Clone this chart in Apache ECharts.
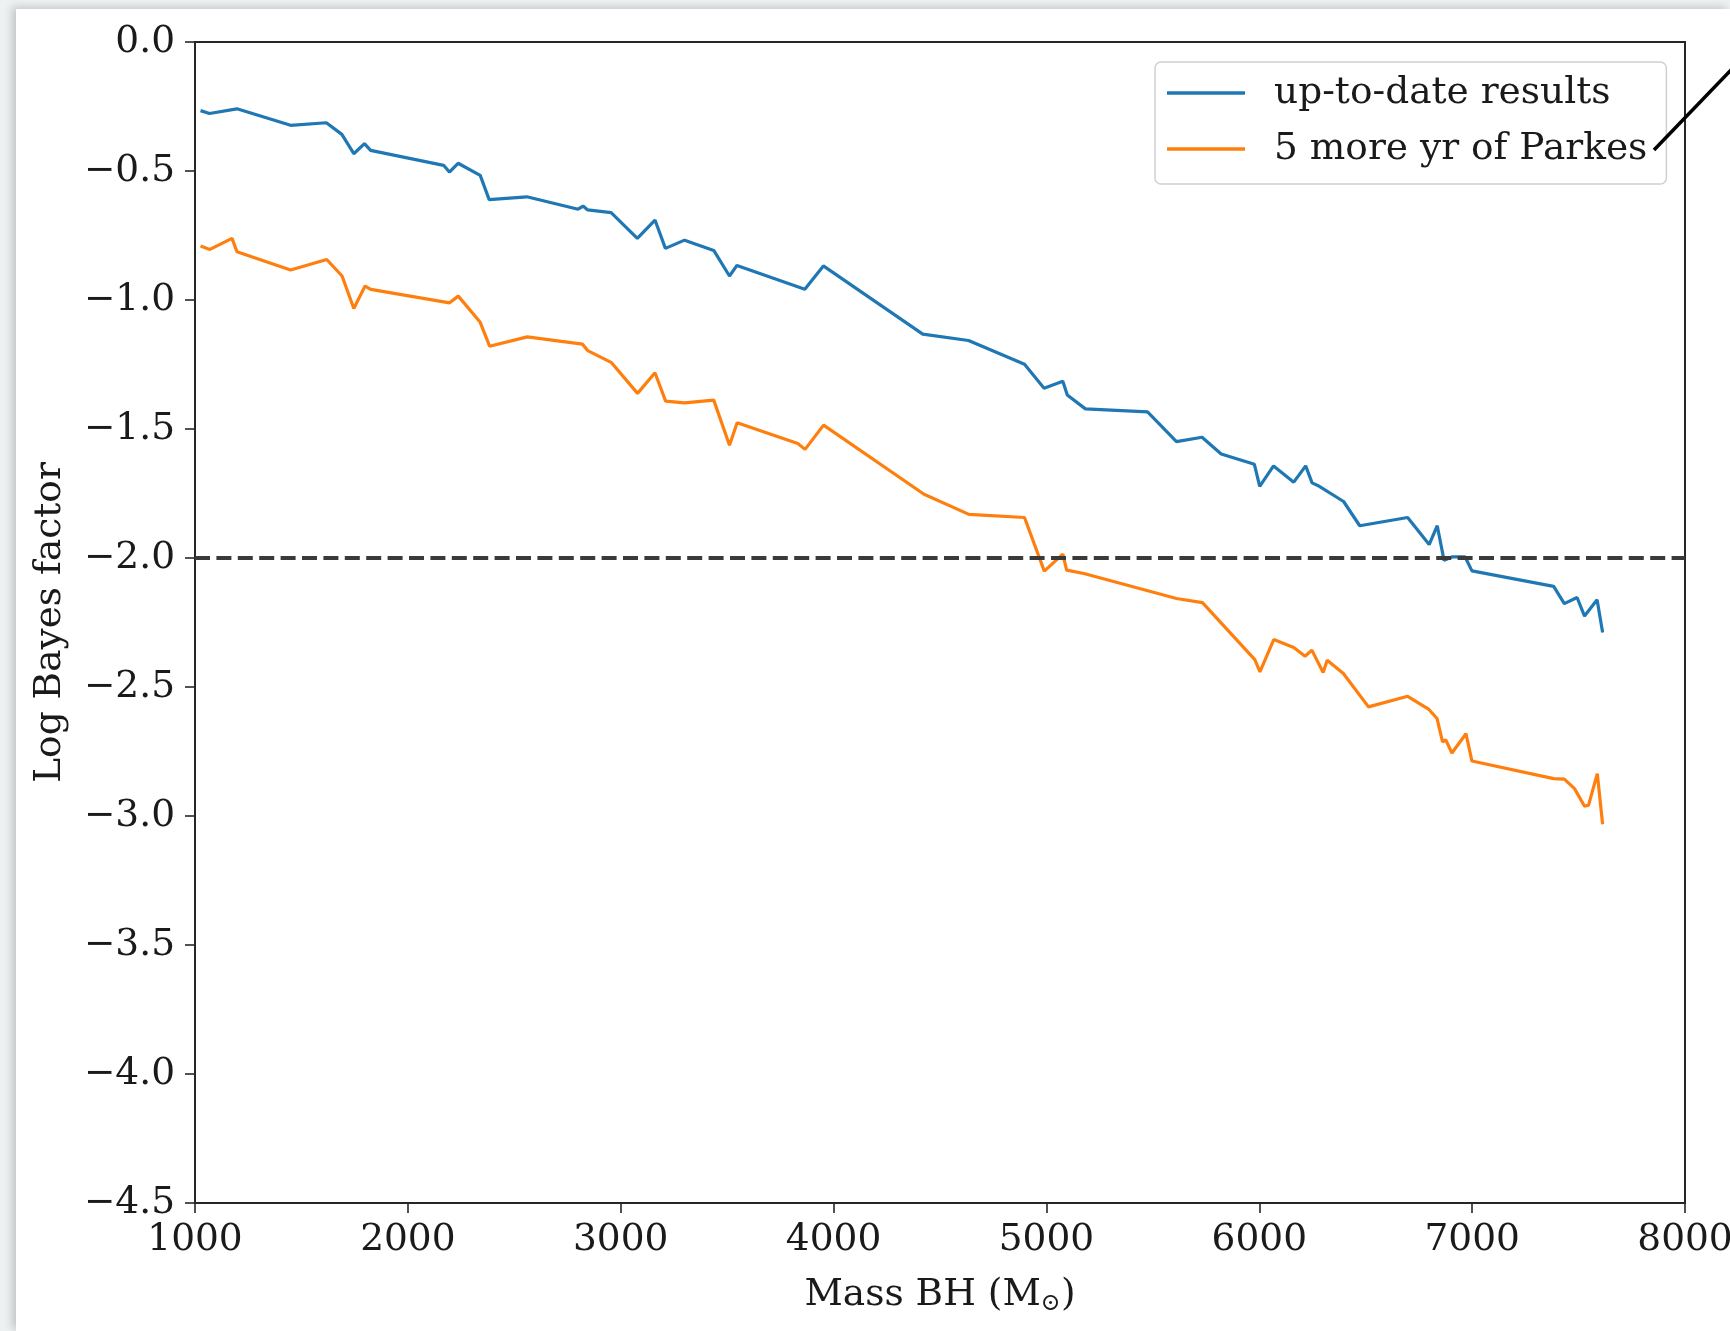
<!DOCTYPE html>
<html>
<head>
<meta charset="utf-8">
<script src="https://cdn.jsdelivr.net/npm/echarts@6/dist/echarts.min.js"></script>
<style>
  html, body { margin: 0; padding: 0; width: 1730px; height: 1331px; background: #edf1f1; overflow: hidden; }
  #card { position: absolute; left: 16px; top: 9px; width: 1714px; height: 1322px; background: #ffffff;
          box-shadow: -4px -2px 8px rgba(0,0,0,0.18); }
  #chart { position: absolute; left: 0; top: 0; width: 1730px; height: 1331px; }
</style>
</head>
<body>
<div id="card"></div>
<div id="chart"></div>
<script>
// ---- data ----
const massUpToDate = [1026, 1068, 1197, 1449, 1617, 1690, 1746, 1796, 1825, 2168, 2195, 2236, 2340, 2382, 2559,
  2800, 2823, 2845, 2955, 3078, 3161, 3210, 3300, 3437, 3511, 3546, 3865, 3952, 4419, 4634, 4897, 4989, 5077,
  5098, 5183, 5475, 5611, 5731, 5821, 5977, 6002, 6067, 6162, 6218, 6248, 6282, 6396, 6472, 6697, 6798, 6836,
  6868, 6905, 6967, 6999, 7383, 7433, 7493, 7528, 7587, 7613];
const bayesUpToDate = [-0.266, -0.277, -0.259, -0.323, -0.313, -0.358, -0.433, -0.394, -0.420, -0.478, -0.504,
  -0.470, -0.517, -0.611, -0.600, -0.648, -0.636, -0.651, -0.661, -0.761, -0.690, -0.800, -0.768, -0.808, -0.907,
  -0.866, -0.958, -0.868, -1.132, -1.157, -1.249, -1.342, -1.315, -1.368, -1.422, -1.434, -1.549, -1.532, -1.597,
  -1.637, -1.722, -1.643, -1.706, -1.643, -1.709, -1.722, -1.781, -1.875, -1.843, -1.948, -1.875, -2.009, -1.996,
  -1.996, -2.050, -2.110, -2.177, -2.153, -2.225, -2.162, -2.289];

const massParkes = [1026, 1070, 1174, 1197, 1449, 1619, 1691, 1746, 1799, 1826, 2196, 2237, 2339, 2384, 2561,
  2820, 2845, 2957, 3079, 3161, 3211, 3300, 3437, 3511, 3547, 3832, 3866, 3953, 4425, 4636, 4897, 4990, 5077,
  5095, 5176, 5611, 5733, 5979, 6003, 6068, 6162, 6215, 6247, 6300, 6319, 6395, 6513, 6697, 6797, 6835, 6861,
  6876, 6905, 6971, 6999, 7383, 7433, 7481, 7528, 7547, 7588, 7613];
const bayesParkes = [-0.791, -0.804, -0.761, -0.813, -0.884, -0.843, -0.907, -1.033, -0.946, -0.959, -1.011,
  -0.985, -1.085, -1.179, -1.143, -1.171, -1.196, -1.243, -1.362, -1.282, -1.392, -1.399, -1.388, -1.563, -1.476,
  -1.556, -1.579, -1.485, -1.753, -1.831, -1.843, -2.051, -1.985, -2.047, -2.060, -2.157, -2.173, -2.394, -2.441,
  -2.316, -2.347, -2.381, -2.357, -2.444, -2.396, -2.448, -2.577, -2.536, -2.587, -2.622, -2.713, -2.705, -2.756,
  -2.681, -2.787, -2.855, -2.857, -2.894, -2.962, -2.958, -2.836, -3.032];

const seriesNames = ['up-to-date results', '5 more yr of Parkes'];
const thresholdValue = [-2.0];
const xTicks = [1000, 2000, 3000, 4000, 5000, 6000, 7000, 8000];
const yTicks = [0.0, -0.5, -1.0, -1.5, -2.0, -2.5, -3.0, -3.5, -4.0, -4.5];

const FONT = '"DejaVu Serif", "Liberation Serif", serif';
const FS = 37.5;
const pair = (xs, ys) => xs.map((x, i) => [x, ys[i]]);
const fmtY = v => (v < 0 ? '\u2212' : '') + Math.abs(v).toFixed(1);
const fmtX = v => String(Math.round(v));

const chart = echarts.init(document.getElementById('chart'), null, { renderer: 'canvas' });
chart.setOption({
  backgroundColor: 'transparent',
  animation: false,
  grid: { left: 195, top: 42, width: 1490, height: 1161, show: true, borderColor: '#262626', borderWidth: 2,
          backgroundColor: 'transparent', containLabel: false, outerBoundsMode: 'none' },
  xAxis: {
    type: 'value', min: xTicks[0], max: xTicks[xTicks.length - 1], interval: 1000,
    axisLine: { show: false, onZero: false },
    axisTick: { show: true, length: 10, lineStyle: { color: '#262626', width: 1.6 } },
    splitLine: { show: false },
    axisLabel: { color: '#1a1a1a', fontFamily: FONT, fontSize: FS, margin: 18, formatter: fmtX,
                 showMaxLabel: true, showMinLabel: true, hideOverlap: false },
    name: 'Mass BH (M{s|\u2299})', nameLocation: 'middle', nameGap: 72,
    nameTextStyle: { color: '#1a1a1a', fontFamily: FONT, fontSize: FS,
      rich: { s: { fontFamily: FONT, fontSize: 24, color: '#1a1a1a', padding: [17, 0, 0, 0] } } }
  },
  yAxis: {
    type: 'value', min: yTicks[yTicks.length - 1], max: yTicks[0], interval: 0.5,
    axisLine: { show: false, onZero: false },
    axisTick: { show: true, length: 10, lineStyle: { color: '#262626', width: 1.6 } },
    splitLine: { show: false },
    axisLabel: { color: '#1a1a1a', fontFamily: FONT, fontSize: FS, margin: 20, formatter: fmtY,
                 showMaxLabel: true, showMinLabel: true, hideOverlap: false },
    name: 'Log Bayes factor', nameLocation: 'middle', nameGap: 126, nameRotate: 90,
    nameTextStyle: { color: '#1a1a1a', fontFamily: FONT, fontSize: FS }
  },
  legend: {
    orient: 'vertical', left: 1155, top: 62,
    padding: [11, 19, 15, 12], itemGap: 16,
    itemWidth: 78, itemHeight: 3.5, icon: 'rect',
    backgroundColor: 'rgba(255,255,255,0.85)', borderColor: '#d0d0d0', borderWidth: 1.5, borderRadius: 6,
    textStyle: { fontFamily: FONT, fontSize: FS, color: '#1a1a1a', lineHeight: 40, padding: [0, 0, 0, 24] },
    data: seriesNames
  },
  series: [
    {
      name: seriesNames[0], type: 'line', data: pair(massUpToDate, bayesUpToDate),
      showSymbol: false, symbol: 'none', color: '#1f77b4', lineStyle: { width: 3.2, color: '#1f77b4' },
      z: 3,
      markLine: {
        silent: true, symbol: 'none', label: { show: false },
        lineStyle: { color: '#3a3a3a', width: 4, type: [15, 6.4], opacity: 1 },
        data: [{ yAxis: thresholdValue[0] }]
      }
    },
    {
      name: seriesNames[1], type: 'line', data: pair(massParkes, bayesParkes),
      showSymbol: false, symbol: 'none', color: '#ff7f0e', lineStyle: { width: 3.2, color: '#ff7f0e' }, z: 3
    }
  ],
  graphic: [
    { type: 'line', shape: { x1: 1654, y1: 150, x2: 1732, y2: 69 }, style: { stroke: '#000', lineWidth: 3.5 }, z: 100 }
  ]
});
</script>
</body>
</html>
